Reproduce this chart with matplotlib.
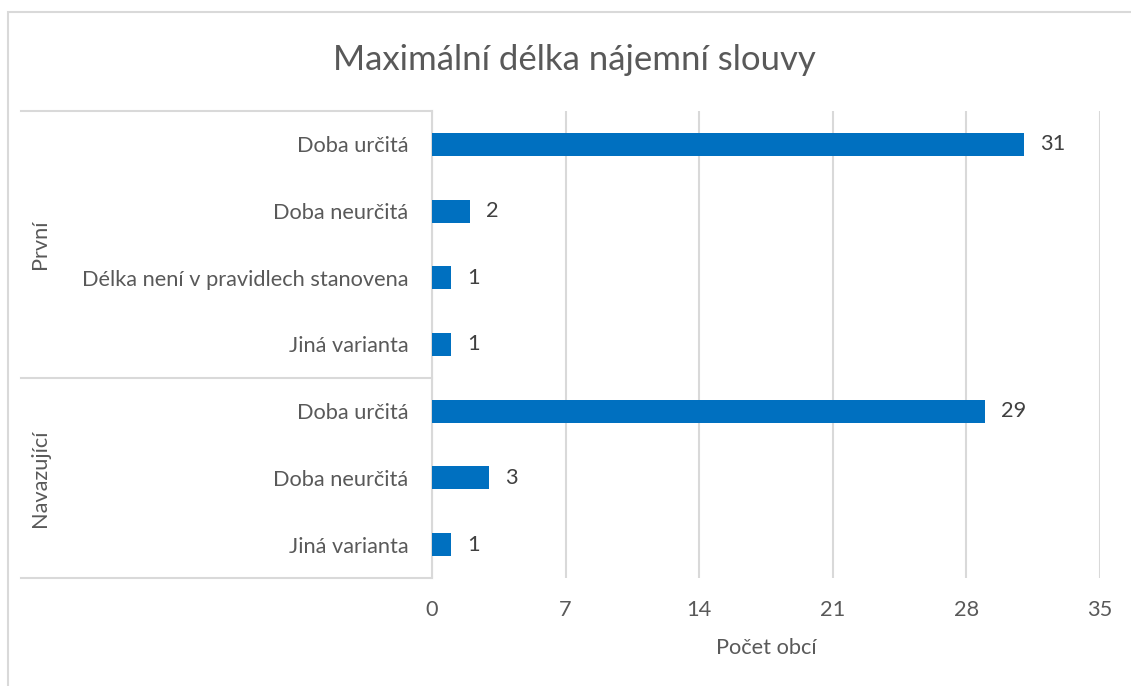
import matplotlib.pyplot as plt
from matplotlib.patches import Rectangle
import matplotlib.transforms as mtransforms

# ----------------------------------------------------------------------------------------------------------------------
# data
groups:      list = ['První', 'Navazující']
categories:  list = ['Doba určitá', 'Doba neurčitá', 'Délka není v pravidlech stanovena', 'Jiná varianta',
                     'Doba určitá', 'Doba neurčitá', 'Jiná varianta']
group_sizes: list = [4, 3]
values:      list = [31, 2, 1, 1, 29, 3, 1]
x_ticks:     list = [0, 7, 14, 21, 28, 35]

TITLE:  str = 'Maximální délka nájemní slouvy'
XLABEL: str = 'Počet obcí'

BAR_CLR:  str = '#0070C0'
GRID_CLR: str = '#D9D9D9'
TXT_CLR:  str = '#595959'
VAL_CLR:  str = '#404040'
FS:       float = 15.7

plt.rcParams['font.family'] = ['Lato', 'DejaVu Sans']

# ----------------------------------------------------------------------------------------------------------------------
W, H = 1131, 686
fig = plt.figure(figsize = (W / 100, H / 100), dpi = 100)

# chart frame (runs off the right / bottom edge like the source)
fig.patches.append(Rectangle((7.5 / W, -0.1), 1.2, 1 - 12.5 / H + 0.1, transform = fig.transFigure,
                             fill = False, edgecolor = GRID_CLR, linewidth = 1.5))

left, right, top, bottom = 432, 1100, 111, 578
ax = fig.add_axes([left / W, 1 - bottom / H, (right - left) / W, (bottom - top) / H])

ypos = list(range(len(categories)))
ax.barh(ypos, values, height = 0.345, color = BAR_CLR, zorder = 3)

for y, v in zip(ypos, values):
    ax.annotate(str(v), (v, y), xytext = (11.5, 0), textcoords = 'offset points',
                va = 'center', ha = 'left', fontsize = FS, color = VAL_CLR)

ax.set_xlim(x_ticks[0], x_ticks[-1])
ax.set_ylim(len(categories) - 0.5, -0.5)
ax.set_xticks(x_ticks)
ax.set_yticks(ypos, categories)
ax.tick_params(axis = 'both', length = 0, labelsize = FS, labelcolor = TXT_CLR)
ax.tick_params(axis = 'x', pad = 16)
ax.tick_params(axis = 'y', pad = 17)
ax.grid(axis = 'x', color = GRID_CLR, linewidth = 1.5, zorder = 0)
for s in ['top', 'right', 'bottom']:
    ax.spines[s].set_visible(False)
ax.spines['left'].set_color(GRID_CLR)
ax.spines['left'].set_linewidth(1.5)

# group separators
trans = mtransforms.blended_transform_factory(ax.transAxes, ax.transData)
x0 = (21 - left) / (right - left)
bounds = [-0.5]
for n in group_sizes:
    bounds.append(bounds[-1] + n)
for b in bounds:
    ax.plot([x0, 0], [b, b], transform = trans, color = GRID_CLR, linewidth = 1.5, clip_on = False)

for g, lo, hi in zip(groups, bounds[:-1], bounds[1:]):
    ax.text(((40 - left) / (right - left)), (lo + hi) / 2, g, transform = trans, rotation = 90,
            ha = 'center', va = 'center', fontsize = FS, color = TXT_CLR)

fig.text((left + right) / 2 / W, 1 - 648 / H, XLABEL, ha = 'center', va = 'center', fontsize = FS, color = TXT_CLR)
fig.text(574 / W, 1 - 60 / H, TITLE, ha = 'center', va = 'center', fontsize = 25, color = TXT_CLR)

fig.savefig('out.png', dpi = 100)
